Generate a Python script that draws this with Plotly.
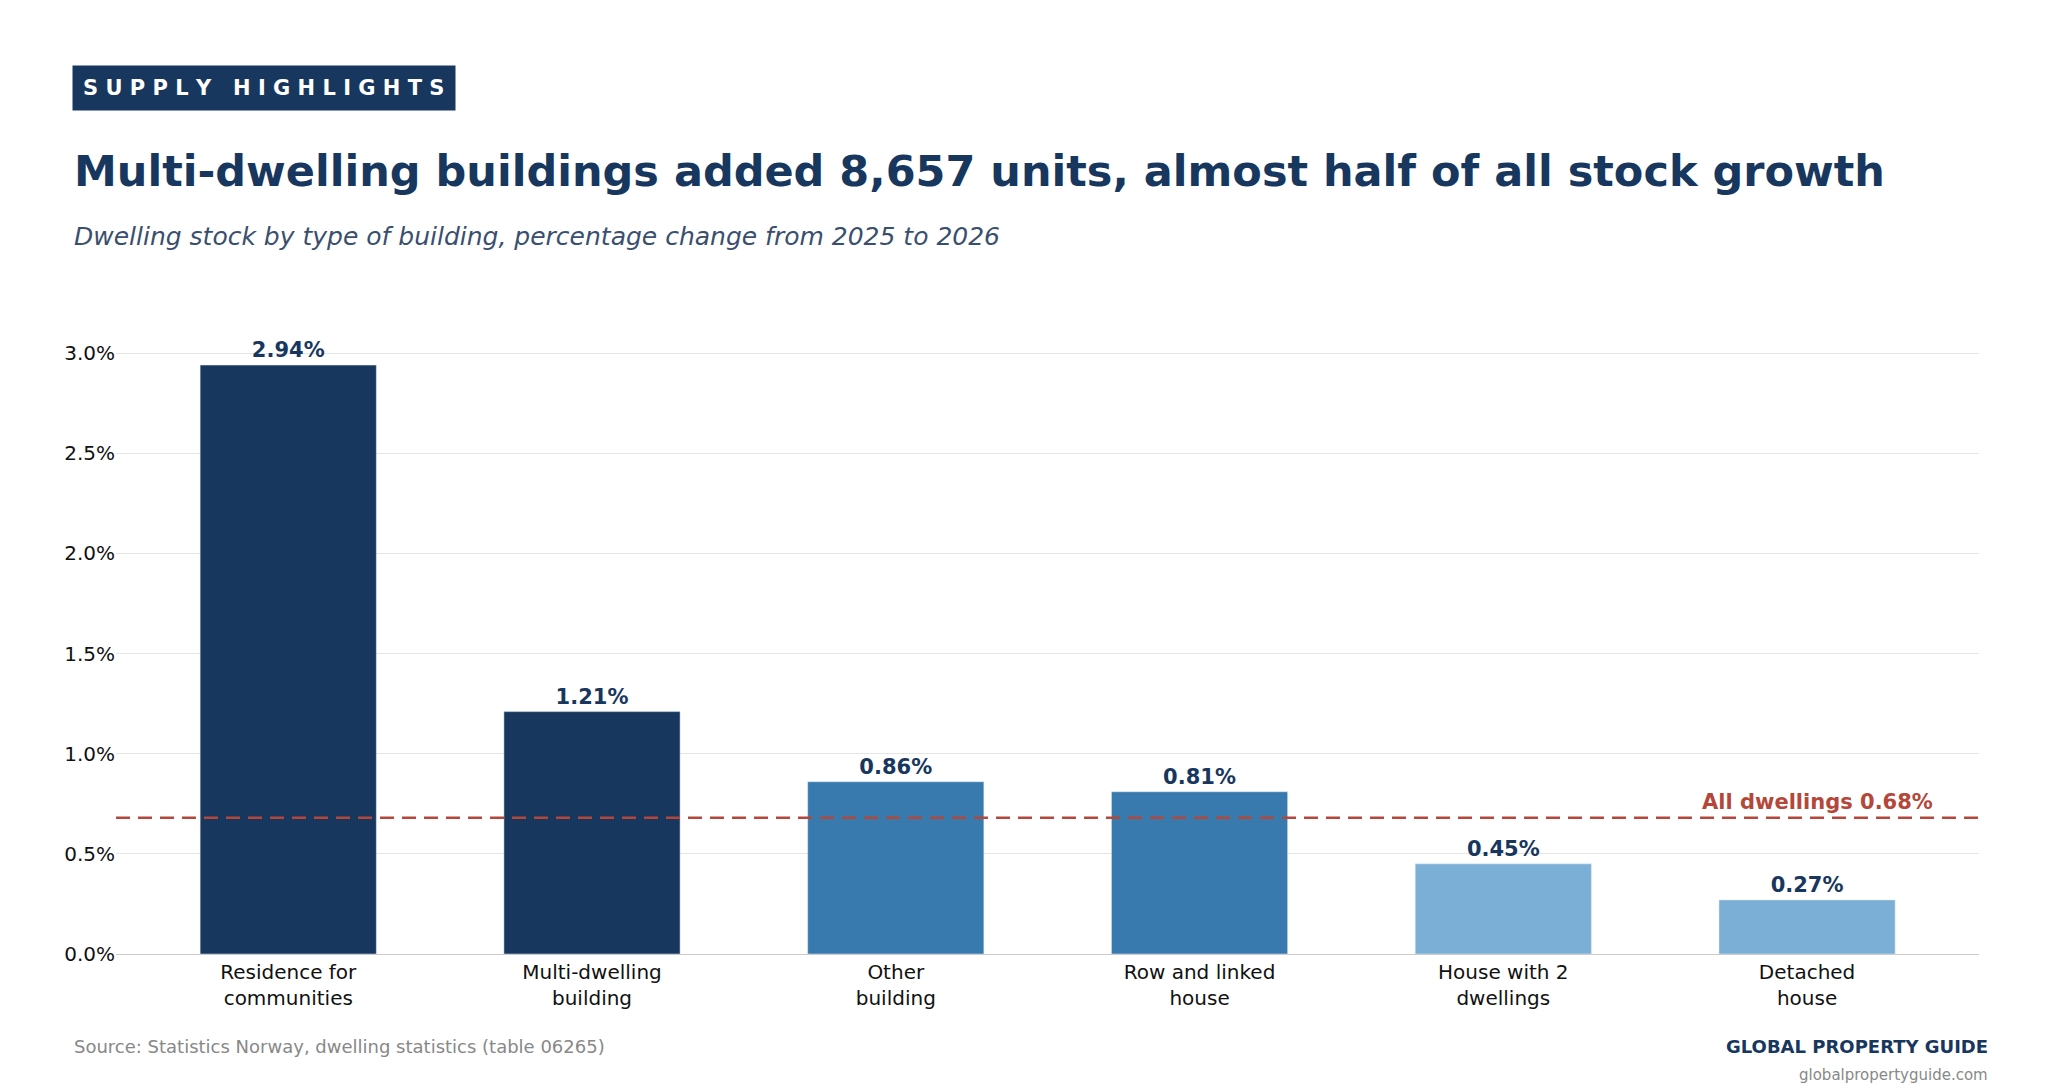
import plotly.graph_objects as go

categories = ["Residence for<br>communities", "Multi-dwelling<br>building", "Other<br>building",
              "Row and linked<br>house", "House with 2<br>dwellings", "Detached<br>house"]
values = [2.94, 1.21, 0.86, 0.81, 0.45, 0.27]
colors = ["#18375e", "#18375e", "#3879ae", "#3879ae", "#7bafd5", "#7bafd5"]
all_dwellings = 0.68
tick_vals = [0, 0.5, 1.0, 1.5, 2.0, 2.5, 3.0]
tick_text = ["0.0%", "0.5%", "1.0%", "1.5%", "2.0%", "2.5%", "3.0%"]

W, H = 2060, 1090
L, R, T, B = 108, 89, 305, 144
PW, PH = W - L - R, H - T - B

def px(p):
    return (p - L) / PW

def py(p):
    return (H - B - p) / PH

fig = go.Figure(go.Bar(
    x=categories, y=values, marker_color=colors, width=0.58,
    text=[f"<b>{v:.2f}%</b>" for v in values], textposition="outside",
    textfont=dict(size=21, color="#18375e", family="DejaVu Sans"),
    cliponaxis=False,
))
fig.add_shape(type="line", xref="paper", yref="y", x0=0, x1=1, y0=all_dwellings, y1=all_dwellings,
              line=dict(color="#b5473a", width=2.5, dash="14px,8px"))
fig.add_annotation(xref="paper", yref="y", x=px(1927), y=all_dwellings, yshift=16, text="<b>All dwellings 0.68%</b>",
                   showarrow=False, xanchor="right", font=dict(size=21, color="#b5473a"))

fig.add_annotation(xref="paper", yref="paper", x=px(64), y=py(80), xanchor="left", yanchor="middle",
                   text="<b>S U P P L Y   H I G H L I G H T S</b>", showarrow=False,
                   bgcolor="#18375e", font=dict(size=21, color="white"), borderpad=10)
fig.add_annotation(xref="paper", yref="paper", x=px(64), y=py(163), xanchor="left", yanchor="middle",
                   text="<b>Multi-dwelling buildings added 8,657 units, almost half of all stock growth</b>",
                   showarrow=False, font=dict(size=43, color="#18375e"))
fig.add_annotation(xref="paper", yref="paper", x=px(64), y=py(228), xanchor="left", yanchor="middle",
                   text="<i>Dwelling stock by type of building, percentage change from 2025 to 2026</i>",
                   showarrow=False, font=dict(size=25, color="#3a4f6e"))
fig.add_annotation(xref="paper", yref="paper", x=px(64), y=py(1038), xanchor="left", yanchor="middle",
                   text="Source: Statistics Norway, dwelling statistics (table 06265)",
                   showarrow=False, font=dict(size=18, color="#888888"))
fig.add_annotation(xref="paper", yref="paper", x=px(1982), y=py(1038), xanchor="right", yanchor="middle",
                   text="<b>GLOBAL PROPERTY GUIDE</b>", showarrow=False, font=dict(size=18, color="#18375e"))
fig.add_annotation(xref="paper", yref="paper", x=px(1982), y=py(1067), xanchor="right", yanchor="middle",
                   text="globalpropertyguide.com", showarrow=False, font=dict(size=15, color="#888888"))

fig.update_layout(
    width=W, height=H, plot_bgcolor="white", paper_bgcolor="white",
    margin=dict(l=L, r=R, t=T, b=B),
    font=dict(family="DejaVu Sans", color="#111111"),
    showlegend=False,
    xaxis=dict(tickfont=dict(size=20), showline=True, linecolor="#cccccc", ticks="",
               range=[-0.567, 5.566]),
    yaxis=dict(range=[0, 3.2], tickvals=tick_vals, ticktext=tick_text, tickfont=dict(size=20),
               gridcolor="#e5e5e5", zeroline=False, ticks=""),
)
fig.write_html("out.html")
